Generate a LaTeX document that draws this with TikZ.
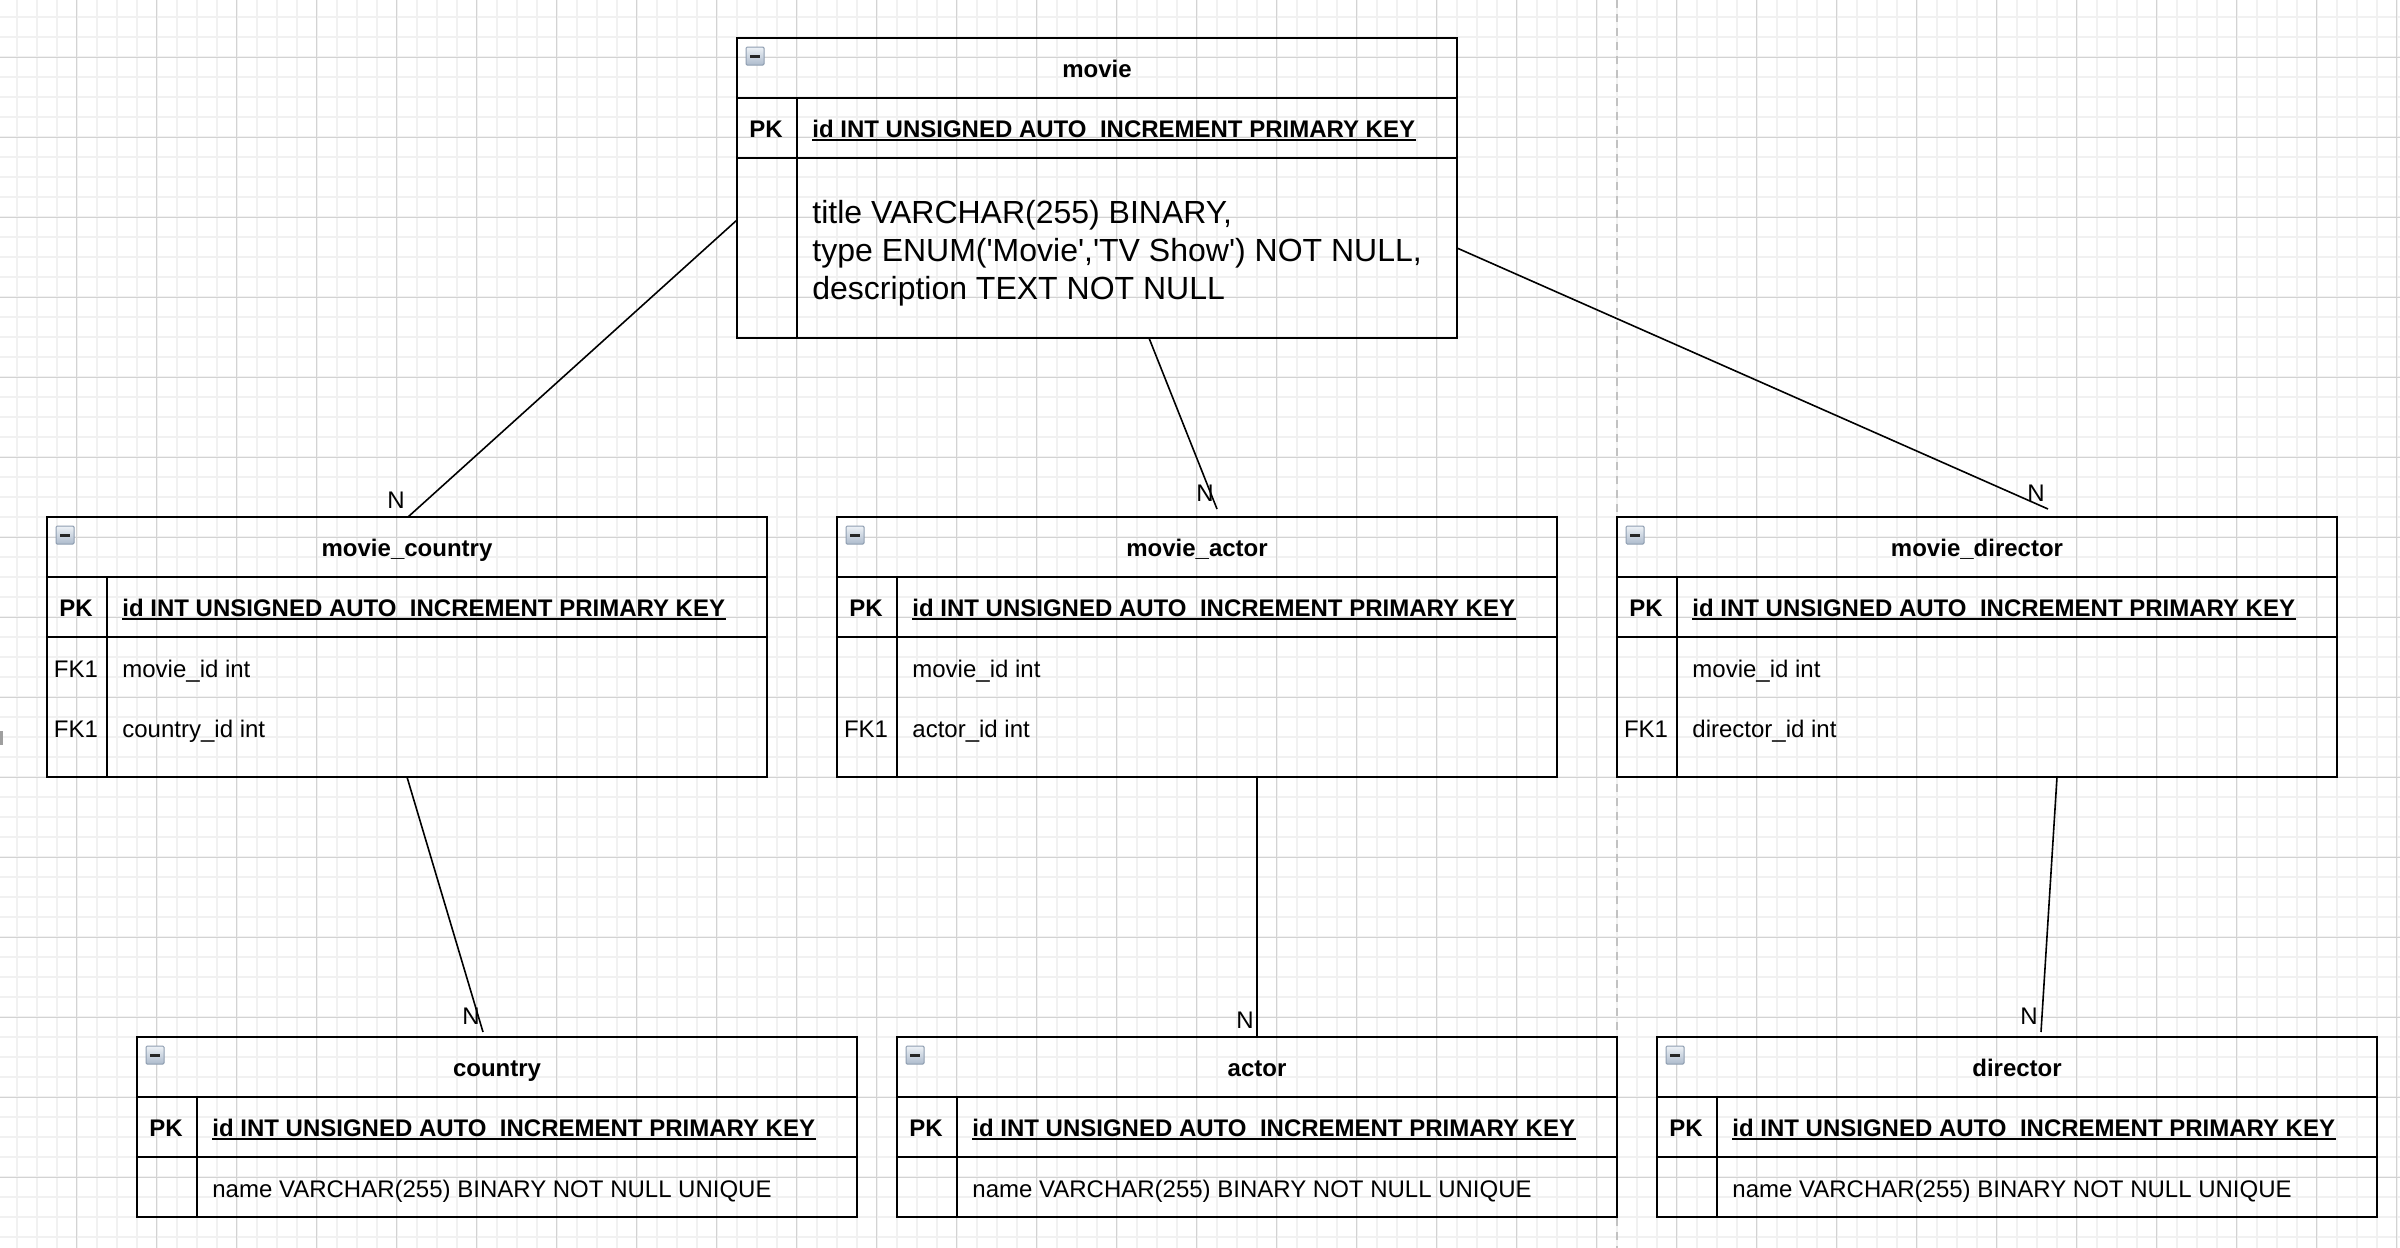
\documentclass[tikz,border=0pt]{standalone}
\usepackage{fontspec}
\setmainfont{Liberation Sans}
\usetikzlibrary{calc}
\definecolor{gminor}{HTML}{F1F1F1}
\definecolor{gmajor}{HTML}{D3D3D3}
\definecolor{pagebrk}{HTML}{C2C2C2}
\definecolor{iconA}{HTML}{EEF2F7}
\definecolor{iconB}{HTML}{ADBBCC}
\definecolor{iconE}{HTML}{8E9DB0}
\newcommand{\ertbl}[5]{%
  \node[tbl, minimum height=#4*0.5pt] (#1) at (#2,#3) {};
  \draw[hline] ($(#1.north west)+(0,60)$) -- ($(#1.north east)+(0,60)$);
  \draw[hline] ($(#1.north west)+(0,120)$) -- ($(#1.north east)+(0,120)$);
  \draw[hline] ($(#1.north west)+(60,60)$) -- ($(#1.south west)+(60,0)$);
  \node[ttl] (#1-title) at ($(#1.north west)+(360,39.5)$) {#5};
  \node[icon] (#1-icon) at ($(#1.north west)+(18,18)$) {};
  \draw[minusbar] ($(#1-icon.center)+(-5,0.5)$) -- ($(#1-icon.center)+(5,0.5)$);
  \node[pkey] (#1-pk) at ($(#1.north west)+(29,99.5)$) {PK};
  \node[pktxt] (#1-pkt) at ($(#1.north west)+(75,99.5)$) {id INT UNSIGNED AUTO\_INCREMENT PRIMARY KEY};
  \draw[uline] ($(#1-pkt.base west)+(0,2.5)$) -- ($(#1-pkt.base east)+(0,2.5)$);
}
\begin{document}
\begin{tikzpicture}[x=0.5pt,y=-0.5pt,
  tbl/.style={draw=black, line width=1.2pt, inner sep=0pt, outer sep=0pt, minimum width=360pt, anchor=north west},
  hline/.style={draw=black, line width=1.2pt},
  uline/.style={draw=black, line width=0.75pt},
  ttl/.style={font=\fontsize{12}{14.4}\selectfont\bfseries, inner sep=0pt, anchor=base},
  pkey/.style={font=\fontsize{12}{14.4}\selectfont\bfseries, inner sep=0pt, anchor=base},
  fkey/.style={font=\fontsize{12}{14.4}\selectfont, inner sep=0pt, anchor=base},
  pktxt/.style={font=\fontsize{12}{14.4}\selectfont\bfseries, inner sep=0pt, anchor=base west},
  rowtxt/.style={font=\fontsize{12}{14.4}\selectfont, inner sep=0pt, anchor=base west},
  bodytxt/.style={font=\fontsize{16}{19}\selectfont, inner sep=0pt, anchor=base west},
  icon/.style={draw=iconE, line width=0.5pt, top color=iconA, bottom color=iconB, minimum size=9pt, inner sep=0pt, rounded corners=0.6pt},
  minusbar/.style={line width=1.1pt, draw=black!85},
  rel/.style={draw=black, line width=0.8pt},
  card/.style={font=\fontsize{12}{14.4}\selectfont, inner sep=0pt, anchor=base east},
]
% background and bounding box
\fill[white] (0,0) rectangle (2400,1248);
\useasboundingbox (0,0) rectangle (2400,1248);
% minor grid
\foreach \i in {0,...,119} { \draw[gminor, line width=1pt] (16.7+20*\i,0) -- (16.7+20*\i,1248); }
\foreach \j in {0,...,61} { \draw[gminor, line width=1pt] (0,17.3+20*\j) -- (2400,17.3+20*\j); }
% major grid
\foreach \i in {0,...,29} { \draw[gmajor, line width=0.5pt] (76.7+80*\i,0) -- (76.7+80*\i,1248); }
\foreach \j in {0,...,14} { \draw[gmajor, line width=0.5pt] (0,57.3+80*\j) -- (2400,57.3+80*\j); }
% page break
\draw[pagebrk, line width=1pt, dash pattern=on 4pt off 3pt] (1616.7,0) -- (1616.7,1248);
% small mark at left edge
\fill[gray!75] (0,731) rectangle (3,745);

% tables
\ertbl{movie}{737}{38}{300}{movie}
\node[bodytxt] (movie-b1) at ($(movie.north west)+(75,185)$) {title VARCHAR(255) BINARY,};
\node[bodytxt] (movie-b2) at ($(movie.north west)+(75,223)$) {type ENUM(\textquotesingle Movie\textquotesingle,\textquotesingle TV Show\textquotesingle) NOT NULL,};
\node[bodytxt] (movie-b3) at ($(movie.north west)+(75,261)$) {description TEXT NOT NULL};

\ertbl{mcountry}{47}{517}{260}{movie\_country}
\node[fkey] (mcountry-k1) at ($(mcountry.north west)+(29,160)$) {FK1};
\node[rowtxt] (mcountry-r1) at ($(mcountry.north west)+(75,160)$) {movie\_id int};
\node[fkey] (mcountry-k2) at ($(mcountry.north west)+(29,220)$) {FK1};
\node[rowtxt] (mcountry-r2) at ($(mcountry.north west)+(75,220)$) {country\_id int};

\ertbl{mactor}{837}{517}{260}{movie\_actor}
\node[rowtxt] (mactor-r1) at ($(mactor.north west)+(75,160)$) {movie\_id int};
\node[fkey] (mactor-k2) at ($(mactor.north west)+(29,220)$) {FK1};
\node[rowtxt] (mactor-r2) at ($(mactor.north west)+(75,220)$) {actor\_id int};

\ertbl{mdirector}{1617}{517}{260}{movie\_director}
\node[rowtxt] (mdirector-r1) at ($(mdirector.north west)+(75,160)$) {movie\_id int};
\node[fkey] (mdirector-k2) at ($(mdirector.north west)+(29,220)$) {FK1};
\node[rowtxt] (mdirector-r2) at ($(mdirector.north west)+(75,220)$) {director\_id int};

\ertbl{country}{137}{1037}{180}{country}
\node[rowtxt] (country-r1) at ($(country.north west)+(75,160)$) {name VARCHAR(255) BINARY NOT NULL UNIQUE};

\ertbl{actor}{897}{1037}{180}{actor}
\node[rowtxt] (actor-r1) at ($(actor.north west)+(75,160)$) {name VARCHAR(255) BINARY NOT NULL UNIQUE};

\ertbl{director}{1657}{1037}{180}{director}
\node[rowtxt] (director-r1) at ($(director.north west)+(75,160)$) {name VARCHAR(255) BINARY NOT NULL UNIQUE};

% relations
\draw[rel] ($(movie.north west)+(0,182)$) coordinate (e1a) -- ($(mcountry.north west)+(361,0)$) coordinate (e1b);
\node[card] (n1) at ($(e1b)+(-3,-9)$) {N};
\draw[rel] ($(movie.south west)+(412,0)$) coordinate (e2a) -- ($(mactor.north west)+(380,-8)$) coordinate (e2b);
\node[card] (n2) at ($(e2b)+(-3,-8)$) {N};
\draw[rel] ($(movie.north east)+(0,210)$) coordinate (e3a) -- ($(mdirector.north west)+(431,-8)$) coordinate (e3b);
\node[card] (n3) at ($(e3b)+(-3,-8)$) {N};
\draw[rel] ($(mcountry.south west)+(360,0)$) coordinate (e4a) -- ($(country.north west)+(346,-5)$) coordinate (e4b);
\node[card] (n4) at ($(e4b)+(-3,-8)$) {N};
\draw[rel] ($(mactor.south west)+(420,0)$) coordinate (e5a) -- ($(actor.north west)+(360,0)$) coordinate (e5b);
\node[card] (n5) at ($(e5b)+(-3,-9)$) {N};
\draw[rel] ($(mdirector.south west)+(440,0)$) coordinate (e6a) -- ($(director.north west)+(384,-5)$) coordinate (e6b);
\node[card] (n6) at ($(e6b)+(-3,-8)$) {N};
\end{tikzpicture}
\end{document}
